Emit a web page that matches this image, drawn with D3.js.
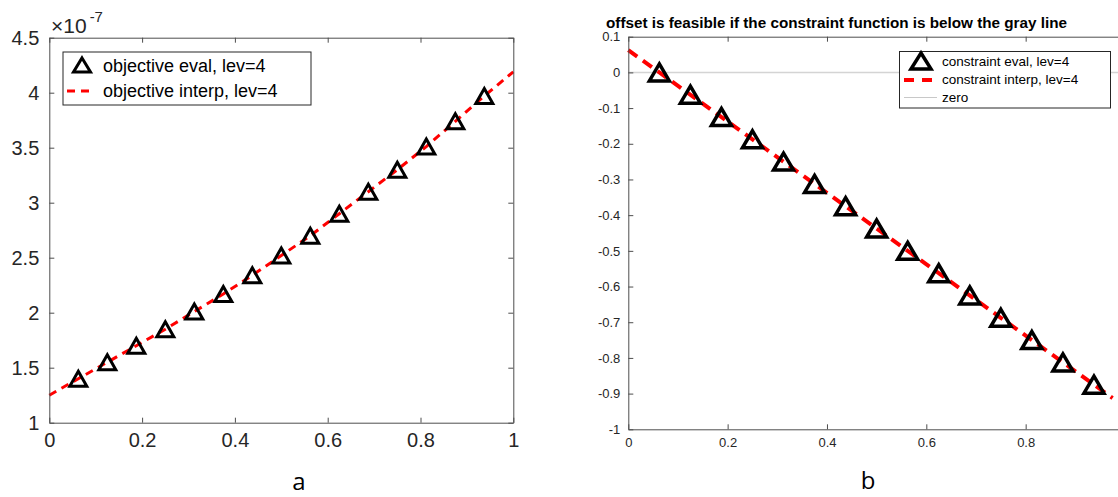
<!DOCTYPE html>
<meta charset="utf-8">
<html>
  <head>
    <style>
     body { margin: 0; background: #fff; }
     svg { display: block; font-family: "Liberation Sans", Arial, sans-serif; }
     .axis path, .axis line { stroke: #4d4d4d; }
     .axis text { fill: #262626; }
    </style>
    <script src="https://cdn.jsdelivr.net/npm/d3@7"></script>
  </head>
  <body>
    <div id="chart"></div>
    <script type="text/javascript">
     // panel a: objective (values x 1e-7)
     var objX = [0.0625, 0.125, 0.1875, 0.25, 0.3125, 0.375, 0.4375, 0.5, 0.5625, 0.625, 0.6875, 0.75, 0.8125, 0.875, 0.9375];
     var objEval = [1.40, 1.55, 1.70, 1.85, 2.01, 2.17, 2.34, 2.52, 2.70, 2.90, 3.10, 3.30, 3.51, 3.74, 3.97];
     var objInterpX = [0, 0.0625, 0.125, 0.1875, 0.25, 0.3125, 0.375, 0.4375, 0.5, 0.5625, 0.625, 0.6875, 0.75, 0.8125, 0.875, 0.9375, 1];
     var objInterp = [1.25, 1.40, 1.55, 1.70, 1.85, 2.01, 2.17, 2.34, 2.52, 2.70, 2.90, 3.10, 3.30, 3.51, 3.74, 3.97, 4.19];
     var objYTicks = [1, 1.5, 2, 2.5, 3, 3.5, 4, 4.5];
     var objXTicks = [0, 0.2, 0.4, 0.6, 0.8, 1];

     // panel b: constraint
     var conX = [0.0625, 0.125, 0.1875, 0.25, 0.3125, 0.375, 0.4375, 0.5, 0.5625, 0.625, 0.6875, 0.75, 0.8125, 0.875, 0.9375];
     var conEval = [0, -0.0625, -0.125, -0.1875, -0.25, -0.3125, -0.375, -0.4375, -0.5, -0.5625, -0.625, -0.6875, -0.75, -0.8125, -0.875];
     var conInterpX = [0, 0.0625, 0.25, 0.5, 0.75, 0.9375, 0.975];
     var conInterp = [0.0625, 0, -0.1875, -0.4375, -0.6875, -0.875, -0.9125];
     var conYTicks = [-1, -0.9, -0.8, -0.7, -0.6, -0.5, -0.4, -0.3, -0.2, -0.1, 0, 0.1];
     var conXTicks = [0, 0.2, 0.4, 0.6, 0.8];

     var svg = d3.select("#chart").append("svg")
                 .attr("width", 1118)
                 .attr("height", 497);

     function triangle(w, h) {
       return "M0," + (-h / 2) + "L" + (w / 2) + "," + (h / 2) + "L" + (-w / 2) + "," + (h / 2) + "Z";
     }

     // matlab style labels, plain hyphen for minus
     function fmt(d) { return String(+d.toFixed(2)); }

     // box with inward ticks on all four sides
     function drawBox(g, x, y, xt, yt, fs, tickLen, pad) {
       g.append("g").attr("class", "axis")
        .attr("transform", "translate(0," + y.range()[0] + ")")
        .call(d3.axisBottom(x).tickValues(xt).tickFormat(fmt).tickSizeInner(-tickLen).tickSizeOuter(0).tickPadding(pad))
        .style("font-size", fs + "px").attr("font-family", null);
       g.append("g").attr("class", "axis")
        .attr("transform", "translate(" + x.range()[0] + ",0)")
        .call(d3.axisLeft(y).tickValues(yt).tickFormat(fmt).tickSizeInner(-tickLen).tickSizeOuter(0).tickPadding(pad))
        .style("font-size", fs + "px").attr("font-family", null);
       g.append("g").attr("class", "axis")
        .attr("transform", "translate(0," + y.range()[1] + ")")
        .call(d3.axisTop(x).tickValues(xt).tickFormat("").tickSizeInner(-tickLen).tickSizeOuter(0));
       g.append("g").attr("class", "axis")
        .attr("transform", "translate(" + x.range()[1] + ",0)")
        .call(d3.axisRight(y).tickValues(yt).tickFormat("").tickSizeInner(-tickLen).tickSizeOuter(0));
     }

     // ---------- panel a ----------
     var xA = d3.scaleLinear().domain([0, 1]).range([49.3, 513.3]);
     var yA = d3.scaleLinear().domain([1, 4.5]).range([422.7, 37.7]);
     var gA = svg.append("g");

     gA.append("path")
       .datum(d3.zip(objInterpX, objInterp))
       .attr("fill", "none")
       .attr("stroke", "#ff0000")
       .attr("stroke-width", 3)
       .attr("stroke-dasharray", "8,6")
       .attr("d", d3.line().x(function (d) { return xA(d[0]); }).y(function (d) { return yA(d[1]); }));

     gA.selectAll(".triA")
       .data(d3.zip(objX, objEval))
       .enter().append("path")
       .attr("transform", function (d) { return "translate(" + xA(d[0]) + "," + yA(d[1]) + ")"; })
       .attr("d", triangle(17, 15))
       .attr("fill", "none")
       .attr("stroke", "#000")
       .attr("stroke-width", 3);

     drawBox(gA, xA, yA, objXTicks, objYTicks, 20, 5, 10);

     var expo = gA.append("text").attr("x", 51).attr("y", 33).attr("fill", "#262626").style("font-size", "21px");
     expo.append("tspan").text("\u00d710");
     expo.append("tspan").attr("dy", -11).attr("dx", 3).style("font-size", "15px").text("-7");

     var legA = gA.append("g");
     legA.append("rect").attr("x", 63).attr("y", 52).attr("width", 248).attr("height", 53)
         .attr("fill", "#fff").attr("stroke", "#262626").attr("stroke-width", 1);
     legA.append("path").attr("transform", "translate(82,65)").attr("d", triangle(17, 14))
         .attr("fill", "none").attr("stroke", "#000").attr("stroke-width", 3);
     legA.append("line").attr("x1", 67).attr("x2", 94).attr("y1", 91).attr("y2", 91)
         .attr("stroke", "#ff0000").attr("stroke-width", 3).attr("stroke-dasharray", "8,6");
     legA.append("text").attr("x", 103).attr("y", 72).style("font-size", "18px").attr("fill", "#000").text("objective eval, lev=4");
     legA.append("text").attr("x", 103).attr("y", 97).style("font-size", "18px").attr("fill", "#000").text("objective interp, lev=4");

     svg.append("text").attr("x", 299).attr("y", 490).attr("text-anchor", "middle")
        .style("font-family", "'Open Sans', sans-serif").style("font-size", "24px").attr("fill", "#000").text("a");

     // ---------- panel b ----------
     var xB = d3.scaleLinear().domain([0, 1]).range([628.3, 1125]);
     var yB = d3.scaleLinear().domain([-1, 0.1]).range([429.3, 36.7]);
     var gB = svg.append("g");

     gB.append("line")
       .attr("x1", xB(0)).attr("x2", xB(1))
       .attr("y1", yB(0)).attr("y2", yB(0))
       .attr("stroke", "#d4d4d4").attr("stroke-width", 1.5);

     gB.append("path")
       .datum(d3.zip(conInterpX, conInterp))
       .attr("fill", "none")
       .attr("stroke", "#ff0000")
       .attr("stroke-width", 4)
       .attr("stroke-dasharray", "11,7")
       .attr("d", d3.line().x(function (d) { return xB(d[0]); }).y(function (d) { return yB(d[1]); }));

     gB.selectAll(".triB")
       .data(d3.zip(conX, conEval))
       .enter().append("path")
       .attr("transform", function (d) { return "translate(" + xB(d[0]) + "," + yB(d[1]) + ")"; })
       .attr("d", triangle(20, 17))
       .attr("fill", "none")
       .attr("stroke", "#000")
       .attr("stroke-width", 3.5);

     drawBox(gB, xB, yB, conXTicks, conYTicks, 13, 5, 8);

     gB.append("text").attr("x", 606).attr("y", 28)
       .attr("textLength", 461).attr("lengthAdjust", "spacingAndGlyphs")
       .style("font-size", "14px").style("font-weight", "bold").attr("fill", "#000")
       .text("offset is feasible if the constraint function is below the gray line");

     var legB = gB.append("g");
     legB.append("rect").attr("x", 899.5).attr("y", 51.5).attr("width", 211).attr("height", 56.5)
         .attr("fill", "#fff").attr("stroke", "#262626").attr("stroke-width", 1);
     legB.append("path").attr("transform", "translate(921,61)").attr("d", triangle(20, 16))
         .attr("fill", "none").attr("stroke", "#000").attr("stroke-width", 3.5);
     legB.append("line").attr("x1", 904).attr("x2", 934).attr("y1", 80).attr("y2", 80)
         .attr("stroke", "#ff0000").attr("stroke-width", 4).attr("stroke-dasharray", "10,8");
     legB.append("line").attr("x1", 904).attr("x2", 937).attr("y1", 97.5).attr("y2", 97.5)
         .attr("stroke", "#c8c8c8").attr("stroke-width", 1);
     var legBText = ["constraint eval, lev=4", "constraint interp, lev=4", "zero"];
     legB.selectAll(".lt").data(legBText).enter().append("text")
         .attr("x", 942).attr("y", function (d, i) { return 66 + i * 18; })
         .style("font-size", "13.5px").attr("fill", "#000").text(function (d) { return d; });

     svg.append("text").attr("x", 868).attr("y", 489).attr("text-anchor", "middle")
        .style("font-family", "'Open Sans', sans-serif").style("font-size", "24px").attr("fill", "#000").text("b");
    </script>
  </body>
</html>
